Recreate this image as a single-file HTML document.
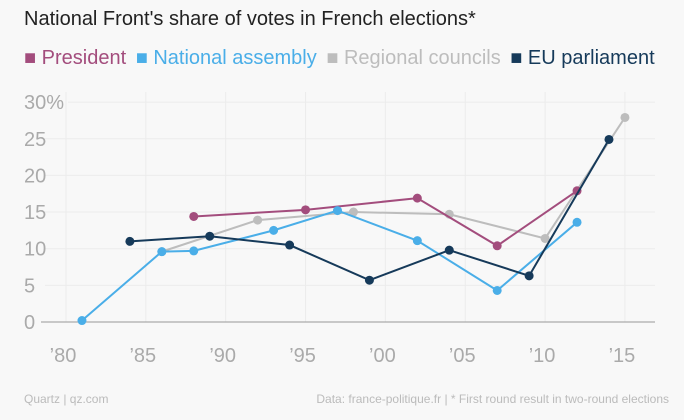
<!DOCTYPE html>
<html><head><meta charset="utf-8"><style>
body{margin:0;background:#f8f8f8;font-family:"Liberation Sans",sans-serif;}
#wrap{position:relative;width:684px;height:420px;background:#f8f8f8;overflow:hidden}
.t{position:absolute;white-space:nowrap}
</style></head><body><div id="wrap">
<div class="t" style="left:24px;top:8px;font-size:20px;color:#222">National Front's share of votes in French elections*</div>
<div class="t" style="left:24px;top:47px;font-size:20px">
<span style="color:#a34d7d">■ President</span>
<span style="color:#4aaee8;margin-left:4px">■ National assembly</span>
<span style="color:#bdbdbd;margin-left:4px">■ Regional councils</span>
<span style="color:#163a5a;margin-left:4px">■ EU parliament</span>
</div>
<svg id="svg" width="684" height="420" style="position:absolute;left:0;top:0"></svg>
<div class="t" style="left:24px;top:392px;font-size:12px;color:#bbb">Quartz | qz.com</div>
<div class="t" style="right:15px;top:392px;font-size:12px;color:#bbb">Data: france-politique.fr | * First round result in two-round elections</div>
</div>
<script>
const xTicks=[1980,1985,1990,1995,2000,2005,2010,2015];
const xTickLabels=["’80","’85","’90","’95","’00","’05","’10","’15"];
const yTicks=[0,5,10,15,20,25,30];
const yTickLabels=["0","5","10","15","20","25","30%"];
const presYears=[1988,1995,2002,2007,2012];
const presVals=[14.4,15.3,16.9,10.4,17.9];
const naYears=[1981,1986,1988,1993,1997,2002,2007,2012];
const naVals=[0.2,9.6,9.7,12.5,15.2,11.1,4.3,13.6];
const regYears=[1986,1992,1998,2004,2010,2015];
const regVals=[9.6,13.9,15.0,14.7,11.4,27.9];
const euYears=[1984,1989,1994,1999,2004,2009,2014];
const euVals=[11.0,11.7,10.5,5.7,9.8,6.3,24.9];
const NS="http://www.w3.org/2000/svg";
const svg=document.getElementById('svg');
const X=y=>66+(y-1980)*15.97;
const Y=v=>322-v*7.33;
function mk(t,a){const e=document.createElementNS(NS,t);for(const k in a)e.setAttribute(k,a[k]);svg.appendChild(e);return e;}
xTicks.forEach((t,i)=>{
 const l=mk('line',{x1:X(t),x2:X(t),y1:92,y2:322,stroke:'#ececec','stroke-width':1});
 
 
 const tx=mk('text',{x:X(t)-3,y:362,'text-anchor':'middle','font-size':20,fill:'#aaa','font-family':'Liberation Sans, sans-serif'});
 tx.textContent=xTickLabels[i];
 
 
});
yTicks.forEach((t,i)=>{
 if(t>0){const l=mk('line',{x1:t==30?68:45,x2:655,y1:Y(t),y2:Y(t),stroke:'#ececec','stroke-width':1});
 
 }
 const tx=mk('text',{x:24,y:Y(t)+7,'font-size':20,fill:'#aaa','font-family':'Liberation Sans, sans-serif'});
 tx.textContent=yTickLabels[i];
 
 
});
const base=mk('line',{x1:41,x2:655,y1:Y(0),y2:Y(0),stroke:'#999','stroke-width':1});


function series(ys,vs,c,name){
 const p=mk('polyline',{points:ys.map((y,i)=>X(y)+','+Y(vs[i])).join(' '),fill:'none',stroke:c,'stroke-width':2});
 
 
 ys.forEach((y,i)=>{const d=mk('circle',{cx:X(y),cy:Y(vs[i]),r:4.5,fill:c});
 
 });
}
series(regYears,regVals,'#bdbdbd','regional-councils');
series(presYears,presVals,'#a34d7d','president');
series(naYears,naVals,'#4aaee8','national-assembly');
series(euYears,euVals,'#163a5a','eu-parliament');
</script></body></html>
